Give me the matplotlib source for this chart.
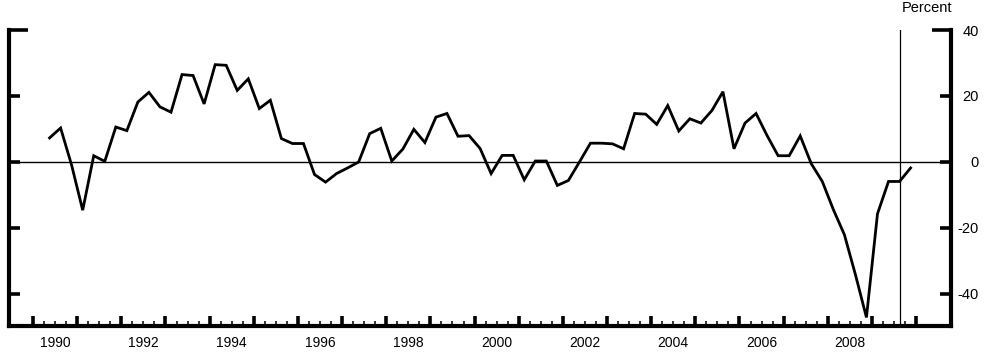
import matplotlib
matplotlib.use("Agg")
import matplotlib.pyplot as plt
import numpy as np

# quarterly series, 1990Q2 .. 2009Q4 (percent, annual rate)
first_quarter = 1990 + 1 / 4          # start of 1990Q2
values = [7.3, 10.3, -1.0, -14.6, 1.9, 0.2, 10.6, 9.5, 18.2, 21.1, 16.7, 15.1,
          26.5, 26.2, 17.6, 29.5, 29.3, 21.7, 25.2, 16.2, 18.7, 7.1, 5.6, 5.6,
          -3.8, -6.1, -3.5, -1.8, 0.0, 8.6, 10.2, 0.3, 3.9, 9.9, 5.9, 13.6,
          14.7, 7.8, 8.0, 4.1, -3.5, 2.0, 2.0, -5.4, 0.3, 0.3, -7.1, -5.6,
          0.0, 5.7, 5.7, 5.5, 4.0, 14.7, 14.5, 11.4, 17.1, 9.4, 13.1, 11.8,
          15.6, 21.3, 4.0, 11.8, 14.7, 8.0, 1.9, 1.9, 7.9, -0.5, -5.9, -14.4,
          -22.0, -34.1, -47.1, -15.7, -5.9, -5.9, -1.8]
marker_quarter = 2009.5               # start of 2009Q3
year_labels = [str(y) for y in range(1990, 2010, 2)]
ytick_values = [-40, -20, 0, 20, 40]

plt.rcParams['font.family'] = ['Liberation Sans', 'DejaVu Sans']

dates = first_quarter + 0.125 + 0.25 * np.arange(len(values))

fig = plt.figure(figsize=(9.9, 3.58), dpi=100)
ax = fig.add_axes([9 / 990, 32 / 358, 942 / 990, 296 / 358])

ax.plot(dates, values, color='black', lw=2.0, solid_joinstyle='miter')
ax.axhline(0, color='black', lw=1.0)
ax.axvline(marker_quarter + 0.125, color='black', lw=0.9)

ax.set_xlim(1989.456, 2010.79)
ax.set_ylim(-49.7, 40)

for side in ['left', 'right', 'bottom']:
    ax.spines[side].set_linewidth(3)
ax.spines['top'].set_visible(False)

# x axis: thick ticks at year boundaries, thin quarterly ticks, labels mid-year
ax.set_xticks(np.arange(1990, 2011), labels=[])
quarters = np.arange(1990.25, 2010, 0.25)
qlabels = [year_labels[int((q - 1990.5) / 2)]
           if (q - 0.5) % 2 == 0 and q % 1 == 0.5 else '' for q in quarters]
ax.set_xticks(quarters, labels=qlabels, minor=True)
ax.tick_params(axis='x', which='major', direction='in', length=7, width=2.6)
ax.tick_params(axis='x', which='minor', direction='in', length=3.8, width=1.1,
               pad=7, labelsize=10)

# y axis: ticks both sides, labels on right
ax.set_yticks(ytick_values[:-1], labels=[str(v) for v in ytick_values[:-1]])
ax.set_yticks([ytick_values[-1]], labels=[str(ytick_values[-1])], minor=True)
ax.tick_params(axis='y', which='both', direction='in', left=True, right=True,
               labelleft=False, labelright=True, width=2.6, labelsize=10.5, pad=20)
ax.tick_params(axis='y', which='major', length=8)
ax.tick_params(axis='y', which='minor', length=14)
for lab in ax.get_yticklabels(which='both'):
    lab.set_horizontalalignment('right')

ax.text(0.9745, 1.074, 'Percent', transform=ax.transAxes, ha='center',
        va='center', fontsize=10.5)

fig.savefig('out.png', dpi=100)
